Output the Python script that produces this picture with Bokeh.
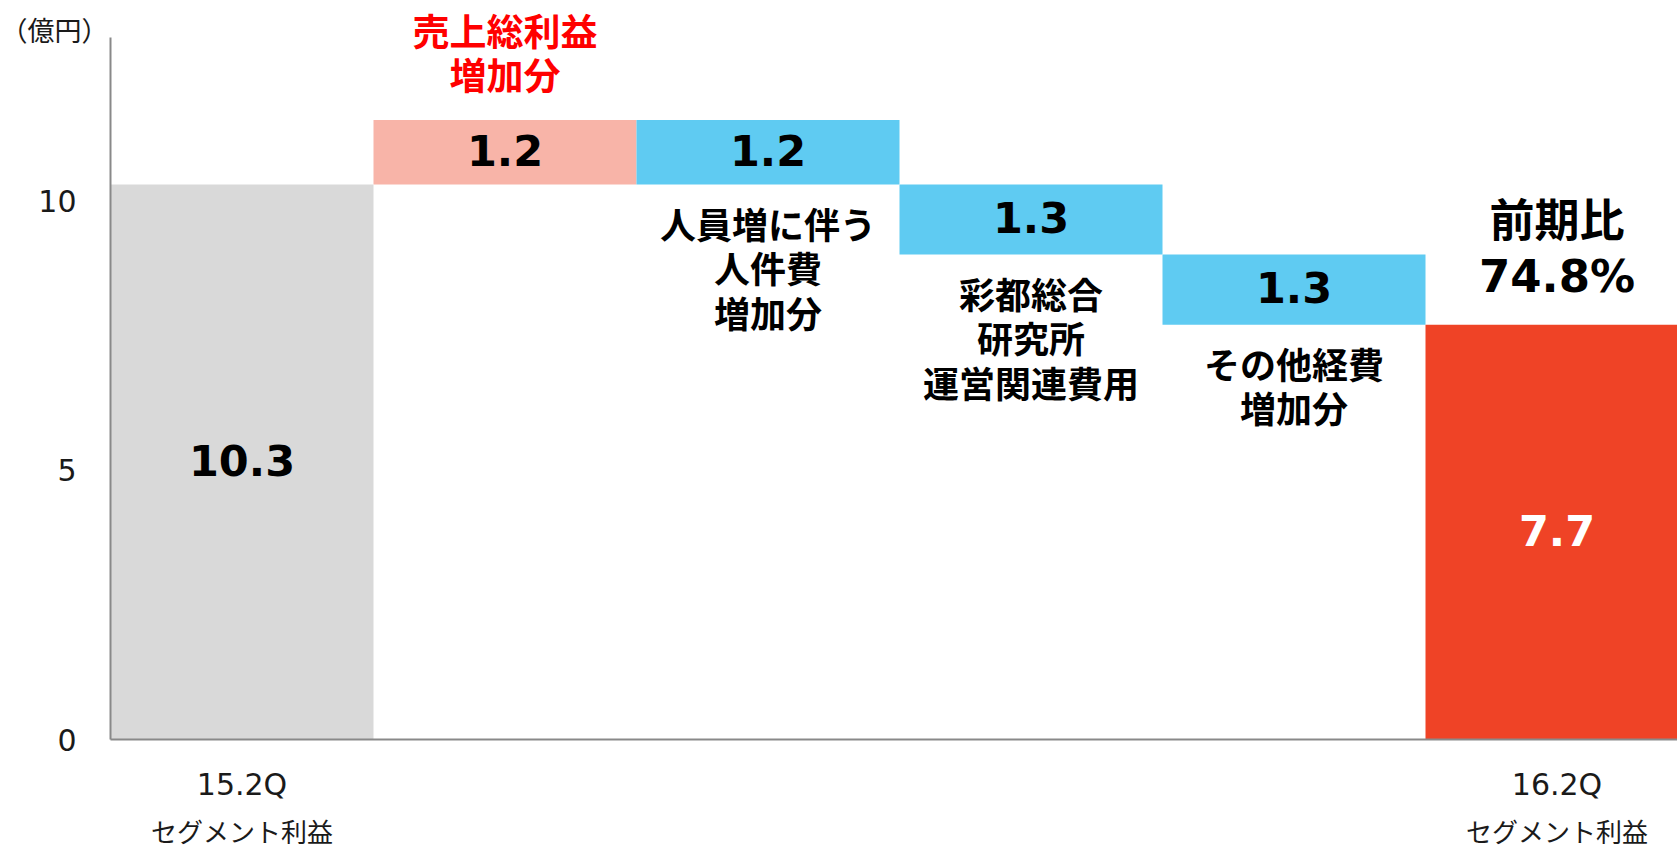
from bokeh.plotting import figure
from bokeh.models import Range1d, Label
from bokeh.embed import file_html
from bokeh.resources import INLINE

# ---------------- data ----------------
categories = ["15.2Q", "売上総利益増加分", "人件費増加分", "彩都総合研究所運営関連費用", "その他経費増加分", "16.2Q"]
start_value = 10.3
deltas = [1.2, -1.2, -1.3, -1.3]
end_value = 7.7
value_labels = ["10.3", "1.2", "1.2", "1.3", "1.3", "7.7"]
period_labels = ["15.2Q", "16.2Q"]
period_sub = "セグメント利益"
step_labels = [["売上総利益", "増加分"],
               ["人員増に伴う", "人件費", "増加分"],
               ["彩都総合", "研究所", "運営関連費用"],
               ["その他経費", "増加分"]]
ratio_labels = ["前期比", "74.8%"]
unit_label = "（億円）"
y_ticks = [0, 5, 10]
y_tick_labels = ["0", "5", "10"]
bar_colors = ["#D9D9D9", "#F8B4A8", "#5FCBF2", "#5FCBF2", "#5FCBF2", "#EF4326"]

# ---------------- geometry / style ----------------
W, H = 1677, 849
AX_LEFT, AX_TOP, AX_BOTTOM = 110, 37, 739   # pixel positions of the axes box
Y_TOP = 13.03                               # value at top of the y axis
CAT_PX = 263                                # pixels per category
PX = (AX_BOTTOM - AX_TOP) / Y_TOP           # pixels per value unit
X0 = -0.5 - AX_LEFT / CAT_PX
X1 = -0.5 + (W - AX_LEFT) / CAT_PX
Y0 = -(H - AX_BOTTOM) / PX
Y1 = Y_TOP + AX_TOP / PX

CJK = "Noto Sans CJK JP"
NUM = "DejaVu Sans"
AXIS_GRAY = "#898989"
TXT = "#1a1a1a"

# waterfall computation
xs = list(range(len(categories)))
bottoms, tops = [0.0], [start_value]
run = start_value
for d in deltas:
    if d >= 0:
        bottoms.append(run); tops.append(run + d)
    else:
        bottoms.append(run + d); tops.append(run)
    run += d
bottoms.append(0.0); tops.append(end_value)

p = figure(width=W, height=H, output_backend="svg", toolbar_location=None,
           x_range=Range1d(X0, X1), y_range=Range1d(Y0, Y1),
           x_axis_location=None, y_axis_location=None,
           min_border=0, min_border_left=0, min_border_right=0,
           min_border_top=0, min_border_bottom=0)
p.outline_line_color = None
p.xgrid.visible = False
p.ygrid.visible = False
p.background_fill_color = "white"
p.border_fill_color = "white"

p.vbar(x=xs, bottom=bottoms, top=tops, width=1.0, fill_color=bar_colors,
       line_color=None)

# axis lines
p.segment(x0=[-0.5, -0.5], y0=[0, 0], x1=[-0.5, X1], y1=[Y_TOP, 0],
          line_color=AXIS_GRAY, line_width=2)


def lab(x, y, text, font, size, color="black", bold=True, align="center"):
    p.add_layout(Label(x=x, y=y, text=text, text_font=font,
                       text_font_size=f"{size}px",
                       text_font_style="bold" if bold else "normal",
                       text_color=color, text_align=align,
                       text_baseline="middle"))


# y tick labels
for t, tl in zip(y_ticks, y_tick_labels):
    lab(-0.5 - 34 / CAT_PX, t, tl, NUM, 30, TXT, bold=False, align="right")

# value labels inside bars
for i, v in enumerate(value_labels):
    mid = (bottoms[i] + tops[i]) / 2
    color = "white" if i == len(value_labels) - 1 else "black"
    lab(xs[i], mid + 2 / PX, v, NUM, 43, color)

# step labels
for j, lines in enumerate(step_labels):
    i = j + 1
    if deltas[j] >= 0:
        offs = [90, 46]
        for line, off in zip(lines, offs):
            lab(xs[i], tops[i] + off / PX, line, CJK, 37, "#FF0000")
    else:
        for k, line in enumerate(lines):
            off = 38 + 44.5 * k
            lab(xs[i], bottoms[i] - off / PX, line, CJK, 36, "black")

# ratio label above final bar
lab(xs[-1], tops[-1] + 107 / PX, ratio_labels[0], CJK, 45, "black")
lab(xs[-1], tops[-1] + 48 / PX, ratio_labels[1], NUM, 45, "black")

# period labels below axis
for xi, t in zip([xs[0], xs[-1]], period_labels):
    lab(xi, -45 / PX, t, NUM, 30, TXT, bold=False)
    lab(xi, -91 / PX, period_sub, CJK, 26, TXT, bold=False)

# unit label
lab(-0.5 - 56 / CAT_PX, Y_TOP + 8 / PX, unit_label, CJK, 27, TXT, bold=False)

open("out.html", "w").write(file_html(p, INLINE))
